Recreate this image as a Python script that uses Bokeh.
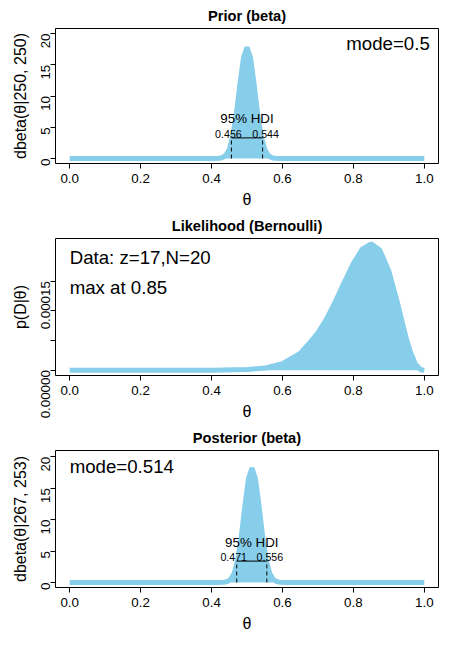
import numpy as np
from bokeh.plotting import figure
from bokeh.layouts import column
from bokeh.models import FixedTicker, Range1d, Label
from bokeh.embed import file_html
from bokeh.resources import INLINE

FONT = "Liberation Sans"
SKY = "#87CEEB"

# values
prior_theta = [0.0, 0.40, 0.42, 0.43, 0.44, 0.45, 0.46, 0.47, 0.48, 0.49, 0.50,
               0.51, 0.52, 0.53, 0.54, 0.55, 0.56, 0.57, 0.58, 0.60, 1.0]
prior_dens = [0, 0, 0.03, 0.13, 0.48, 1.45, 3.56, 7.2, 11.9, 16.1, 17.8,
              16.1, 11.9, 7.2, 3.56, 1.45, 0.48, 0.13, 0.03, 0, 0]

like_theta = [0.0, 0.40, 0.50, 0.55, 0.60, 0.65, 0.675, 0.70, 0.725, 0.75, 0.775,
              0.80, 0.825, 0.85, 0.875, 0.90, 0.925, 0.94, 0.95, 0.96, 0.975, 0.99, 1.0]
like_dens = [0, 0, 9.5e-7, 3.5e-6, 1.08e-5, 2.83e-5, 4.5e-5, 6.3e-5, 8.7e-5, 1.17e-4, 1.49e-4,
             1.80e-4, 2.04e-4, 2.13e-4, 2.02e-4, 1.67e-4, 1.12e-4, 7.5e-5, 5.2e-5, 3.2e-5,
             1.0e-5, 8.4e-7, 0]

post_theta = [0.0, 0.414, 0.434, 0.444, 0.454, 0.464, 0.474, 0.484, 0.494, 0.504, 0.514,
              0.524, 0.534, 0.544, 0.554, 0.564, 0.574, 0.584, 0.594, 0.614, 1.0]
post_dens = [0, 0, 0.03, 0.13, 0.49, 1.48, 3.64, 7.4, 12.2, 16.5, 18.2,
             16.5, 12.2, 7.4, 3.64, 1.48, 0.49, 0.13, 0.03, 0, 0]

prior_hdi = [0.456, 0.544]
prior_hdi_h = 3.3
post_hdi = [0.471, 0.556]
post_hdi_h = 3.4


def panel(title, xs, ys, ylab, yr, yticks, ylabels, h):
    p = figure(width=450, height=h, output_backend="svg", toolbar_location=None,
               x_range=Range1d(-0.04, 1.04), y_range=Range1d(*yr),
               min_border_left=55, min_border_right=12, min_border_top=5)
    p.title.text = title
    p.title.align = "center"
    p.title.text_font = FONT
    p.title.text_font_size = "11pt"
    p.title.text_font_style = "bold"
    p.title.text_color = "black"
    p.grid.visible = False
    p.outline_line_color = "black"
    p.varea(x=xs, y1=0, y2=ys, fill_color=SKY)
    p.line(x=xs, y=ys, line_color=SKY, line_width=5)
    p.xaxis.ticker = FixedTicker(ticks=[0, 0.2, 0.4, 0.6, 0.8, 1.0])
    p.xaxis.major_label_overrides = {0: "0.0", 1: "1.0"}
    p.xaxis.axis_label = "θ"
    p.yaxis.ticker = FixedTicker(ticks=yticks)
    p.yaxis.major_label_overrides = ylabels
    p.yaxis.major_label_orientation = np.pi / 2
    p.yaxis.axis_label = ylab
    for ax in (p.xaxis, p.yaxis):
        ax.axis_label_text_font = FONT
        ax.axis_label_text_font_style = "normal"
        ax.axis_label_text_font_size = "12pt"
        ax.axis_label_text_color = "black"
        ax.major_label_text_font = FONT
        ax.major_label_text_font_size = "10pt"
        ax.major_label_text_color = "black"
        ax.minor_tick_line_color = None
        ax.major_tick_out = 5
        ax.major_tick_in = 0
        ax.axis_line_color = None
    return p


def hdi(p, lims, hgt, top):
    p.segment(x0=lims, y0=[0, 0], x1=lims, y1=[hgt, hgt], line_dash="4 3", line_color="black")
    p.segment(x0=[lims[0]], y0=[hgt], x1=[lims[1]], y1=[hgt], line_color="black")
    p.add_layout(Label(x=(lims[0] + lims[1]) / 2, y=top, text="95% HDI", text_align="center",
                       text_font=FONT, text_font_size="10pt", text_color="black"))
    for xv, off in zip(lims, [-3, 3]):
        p.add_layout(Label(x=xv, y=hgt, text=f"{xv:.3f}", text_align="center",
                           text_font=FONT, text_font_size="8pt", text_color="black", x_offset=off))


p1 = panel("Prior (beta)", prior_theta, prior_dens, "dbeta(θ|250, 250)", (-0.8, 20.8),
           [0, 5, 10, 15, 20], {}, 210)
hdi(p1, prior_hdi, prior_hdi_h, 5.2)
p1.add_layout(Label(x=0.78, y=16.8, text="mode=0.5", text_font=FONT, text_font_size="14pt",
                    text_color="black"))

p2 = panel("Likelihood (Bernoulli)", like_theta, like_dens, "p(D|θ)", (-9e-6, 2.22e-4),
           [0, 5e-5, 1e-4, 1.5e-4], {0: "0.00000", 5e-5: "", 1e-4: "", 1.5e-4: "0.00015"}, 212)
p2.add_layout(Label(x=0.0, y=1.72e-4, text="Data: z=17,N=20", text_font=FONT, text_font_size="14pt",
                    text_color="black"))
p2.add_layout(Label(x=0.0, y=1.22e-4, text="max at 0.85", text_font=FONT, text_font_size="14pt",
                    text_color="black"))

p3 = panel("Posterior (beta)", post_theta, post_dens, "dbeta(θ|267, 253)", (-0.8, 21.0),
           [0, 5, 10, 15, 20], {}, 212)
hdi(p3, post_hdi, post_hdi_h, 5.2)
p3.add_layout(Label(x=0.0, y=16.8, text="mode=0.514", text_font=FONT, text_font_size="14pt",
                    text_color="black"))

layout = column(p1, p2, p3, spacing=0)
open("out.html", "w").write(file_html(layout, INLINE))
